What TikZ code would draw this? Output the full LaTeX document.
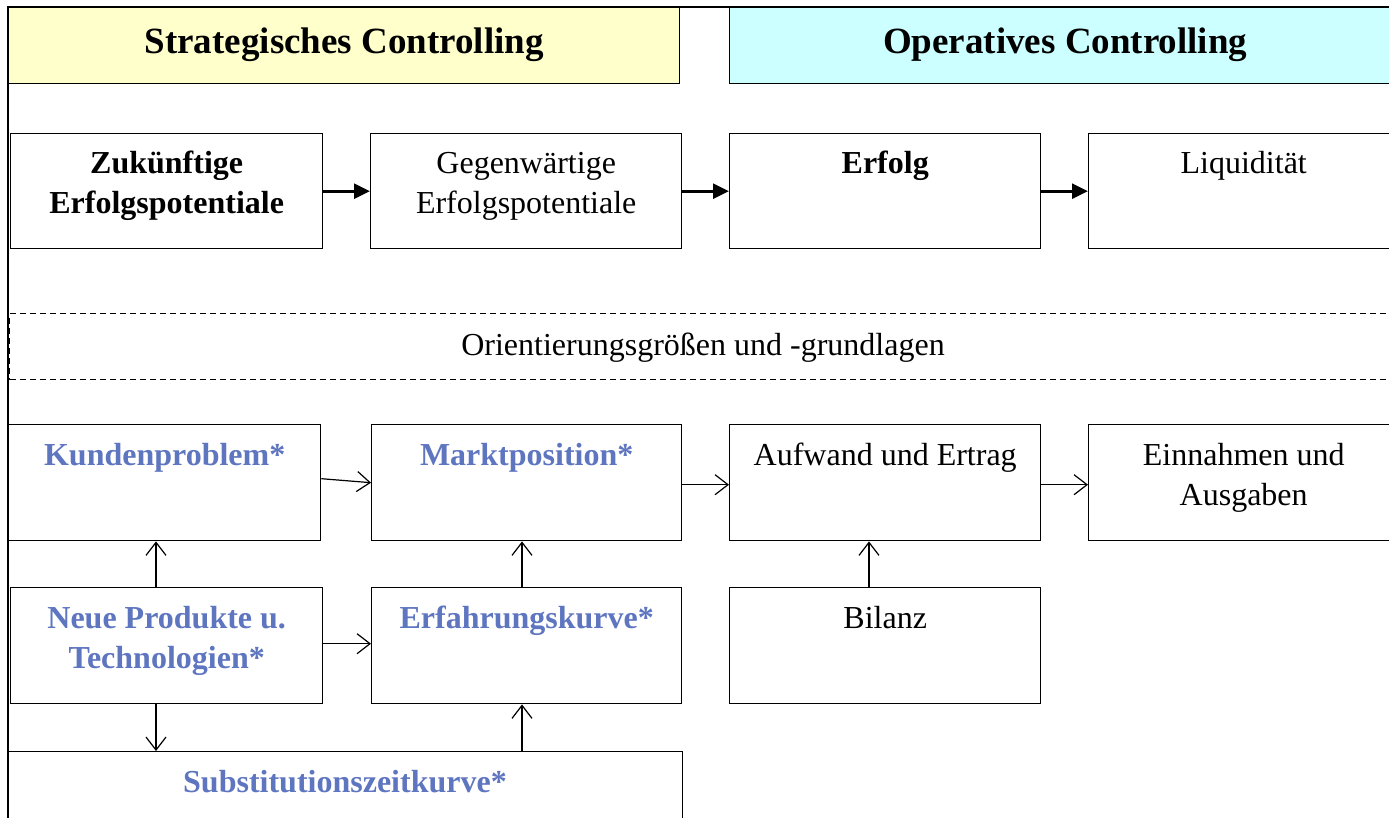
\documentclass[tikz,border=0pt]{standalone}
\usepackage{fontspec}
\setmainfont{Liberation Serif}
\usetikzlibrary{arrows.meta,calc}
\definecolor{hyellow}{RGB}{255,255,204}
\definecolor{hcyan}{RGB}{204,255,255}
\definecolor{tblue}{RGB}{94,117,192}
\tikzset{
  box/.style={draw, line width=1.4pt, inner sep=0pt, anchor=north west},
  lbl/.style={anchor=north, inner sep=0pt, align=center, font=\fontsize{32}{40}\selectfont},
  hlbl/.style={anchor=base, inner sep=0pt, font=\fontsize{37}{44}\selectfont\bfseries},
  bigarrow/.style={line width=2.8pt, -{Triangle[length=16pt,width=15pt]}},
  thinarrow/.style={line width=1.2pt, -{Straight Barb[length=13pt,width=20pt,line width=1.2pt]}}
}
\newcommand{\mybox}[5]{% name, x1, y1, x2, y2
  \node[box, minimum width=#4-#2, minimum height=#5-#3] (#1) at (#2,#3) {};}
\begin{document}
\begin{tikzpicture}[x=1pt,y=-1pt]
\useasboundingbox (0,0) rectangle (1389,818);
\clip (0,0) rectangle (1389,818);
\fill[white] (0,0) rectangle (1389,818);
% frame
\coordinate (ftl) at (8,7);
\coordinate (ftr) at (1400,7);
\coordinate (fbl) at (8,830);
\draw[line width=1.4pt] (ftr) -- (ftl) -- (fbl);
% headers
\node[box, fill=hyellow, minimum width=671, minimum height=76] (hs) at (8,7) {};
\node[box, fill=hcyan, minimum width=671, minimum height=76] (ho) at (729,7) {};
\node[hlbl] at ($(hs.north)+(0,47)$) {Strategisches Controlling};
\node[hlbl] at ($(ho.north)+(0,47)$) {Operatives Controlling};
% top row
\mybox{z}{10}{133}{322}{248}
\mybox{g}{370}{133}{681}{248}
\mybox{e}{729}{133}{1040}{248}
\mybox{l}{1088}{133}{1398}{248}
\node[lbl, font=\fontsize{32}{40}\selectfont\bfseries] at ($(z.north)+(0,12)$) {\strut Zukünftige\\Erfolgspotentiale};
\node[lbl] at ($(g.north)+(0,12)$) {\strut Gegenwärtige\\Erfolgspotentiale};
\node[lbl, font=\fontsize{32}{40}\selectfont\bfseries] at ($(e.north)+(0,12)$) {\strut Erfolg};
\node[lbl] at ($(l.north)+(0,12)$) {\strut Liquidität};
\draw[bigarrow] (z.east) -- (g.west);
\draw[bigarrow] (g.east) -- (e.west);
\draw[bigarrow] (e.east) -- (l.west);
% dashed band
\node[box, dash pattern=on 6pt off 4pt, line width=1.1pt, minimum width=1400, minimum height=66] (band) at (9,313) {};
\node[anchor=base, inner sep=0pt, font=\fontsize{32}{40}\selectfont] at (703,355) {Orientierungsgrößen und -grundlagen};
% lower rows
\mybox{k}{8}{424}{320}{540}
\mybox{m}{371}{424}{681}{540}
\mybox{a}{729}{424}{1040}{540}
\mybox{ein}{1088}{424}{1398}{540}
\mybox{n}{10}{587}{322}{703}
\mybox{ef}{371}{587}{681}{703}
\mybox{b}{729}{587}{1040}{703}
\mybox{s}{8}{751}{682}{840}
\node[lbl, font=\fontsize{32}{40}\selectfont\bfseries, text=tblue] at ($(k.north)+(0,13)$) {\strut Kundenproblem*};
\node[lbl, font=\fontsize{32}{40}\selectfont\bfseries, text=tblue] at ($(m.north)+(0,13)$) {\strut Marktposition*};
\node[lbl] at ($(a.north)+(0,13)$) {\strut Aufwand und Ertrag};
\node[lbl] at ($(ein.north)+(0,13)$) {\strut Einnahmen und\\Ausgaben};
\node[lbl, font=\fontsize{32}{40}\selectfont\bfseries, text=tblue] at ($(n.north)+(0,13)$) {\strut Neue Produkte u.\\Technologien*};
\node[lbl, font=\fontsize{32}{40}\selectfont\bfseries, text=tblue] at ($(ef.north)+(0,13)$) {\strut Erfahrungskurve*};
\node[lbl] at ($(b.north)+(0,13)$) {\strut Bilanz};
\node[lbl, font=\fontsize{32}{40}\selectfont\bfseries, text=tblue] at (345,764) {\strut Substitutionszeitkurve*};
% thin arrows
\draw[thinarrow] ([yshift=4pt]k.east) -- (m.west);
\draw[thinarrow] ([yshift=-2pt]m.east) -- ([yshift=-2pt]a.west);
\draw[thinarrow] ([yshift=-2pt]a.east) -- ([yshift=-2pt]ein.west);
\draw[thinarrow] (n.north -| 156,0) -- (k.south -| 156,0);
\draw[thinarrow] (ef.north -| 522,0) -- (m.south -| 522,0);
\draw[thinarrow] (b.north -| 869,0) -- (a.south -| 869,0);
\draw[thinarrow] ([yshift=2pt]n.east) -- ([yshift=2pt]ef.west);
\draw[thinarrow] (n.south -| 156,0) -- (s.north -| 156,0);
\draw[thinarrow] (s.north -| 522,0) -- (ef.south -| 522,0);
\end{tikzpicture}
\end{document}
